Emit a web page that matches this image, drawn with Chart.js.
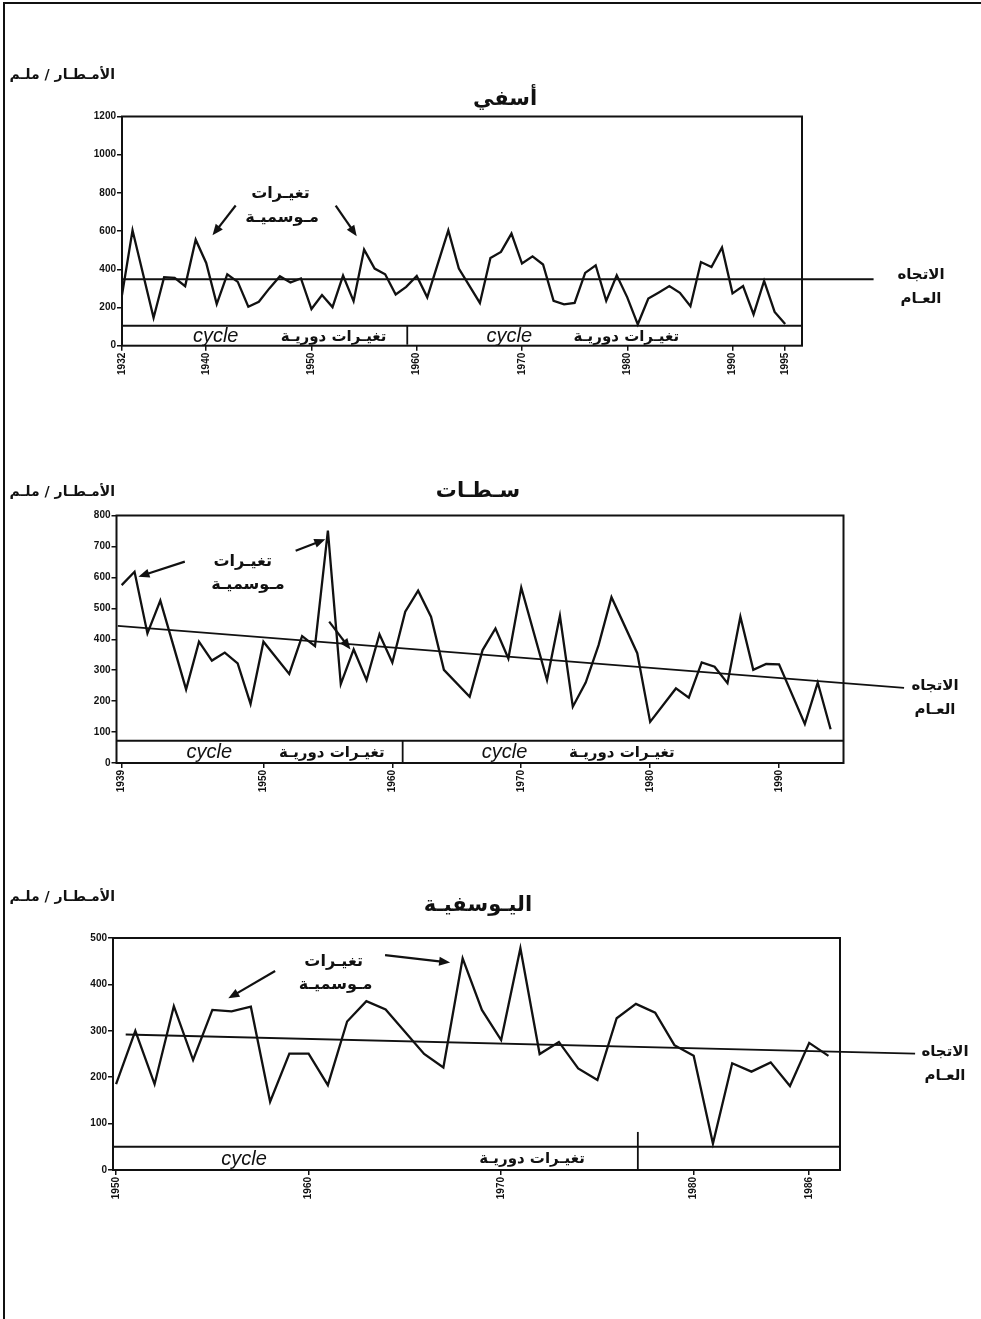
<!DOCTYPE html>
<html>
<head>
<meta charset="utf-8">
<script src="https://cdn.jsdelivr.net/npm/chart.js@4.4.0/dist/chart.umd.min.js"></script>
<style>
html, body { margin: 0; padding: 0; background: #fff; }
#page { position: relative; width: 981px; height: 1319px; overflow: hidden; background: #fff; }
#frame { position: absolute; left: 3px; top: 2px; right: -10px; bottom: -10px; border-left: 2.5px solid #111; border-top: 2.5px solid #111; }
canvas { position: absolute; left: 0; }
</style>
</head>
<body>
<div id="page">
  <div id="frame"></div>
  <canvas id="c1" width="981" height="420" style="top:0px"></canvas>
  <canvas id="c2" width="981" height="420" style="top:420px"></canvas>
  <canvas id="c3" width="981" height="479" style="top:840px"></canvas>
</div>
<script>
// Safi (أسفي) annual rainfall, mm
const safiYears = [1932, 1933, 1935, 1936, 1937, 1938, 1939, 1940, 1941, 1942, 1943, 1944, 1945, 1946, 1947, 1948, 1949,
  1950, 1951, 1952, 1953, 1954, 1955, 1956, 1957, 1958, 1959, 1960, 1961, 1963, 1964, 1966, 1967, 1968, 1969,
  1970, 1971, 1972, 1973, 1974, 1975, 1976, 1977, 1978, 1979, 1980, 1981, 1982, 1983, 1984, 1985, 1986, 1987,
  1988, 1989, 1990, 1991, 1992, 1993, 1994, 1995];
const safiRain = [265, 604, 146, 359, 355, 312, 555, 433, 218, 374, 334, 204, 230, 300, 364, 331, 352,
  192, 265, 202, 367, 233, 503, 404, 374, 268, 308, 365, 253, 604, 404, 224, 459, 491, 587,
  430, 468, 425, 235, 216, 224, 381, 421, 235, 369, 253, 112, 247, 279, 312, 277, 207, 438,
  412, 514, 274, 312, 164, 339, 177, 113];
const safiTicks = [1932, 1940, 1950, 1960, 1970, 1980, 1990, 1995];
const safiTrendYears = [1932, 2003.4];
const safiTrendRain = [348, 348];

// Settat (سطات)
const settatYears = [1939, 1940, 1941, 1942, 1944, 1945, 1946, 1947, 1948, 1949, 1950, 1952, 1953, 1954, 1955,
  1956, 1957, 1958, 1959, 1960, 1961, 1962, 1963, 1964, 1966, 1967, 1968, 1969, 1970, 1972, 1973, 1974,
  1975, 1976, 1977, 1979, 1980, 1982, 1983, 1984, 1985, 1986, 1987, 1988, 1989, 1990, 1992, 1993, 1994];
const settatRain = [575, 618, 419, 525, 238, 392, 331, 357, 322, 191, 392, 288, 410, 378, 751,
  255, 367, 268, 416, 325, 489, 557, 473, 301, 214, 365, 435, 338, 567, 268, 476, 182,
  260, 381, 536, 355, 133, 241, 211, 325, 311, 258, 473, 301, 320, 319, 126, 260, 109];
const settatTicks = [1939, 1950, 1960, 1970, 1980, 1990];
const settatTrendYears = [1938.7, 1999.7];
const settatTrendRain = [443, 243];

// Youssoufia (اليوسفية)
const youssYears = [1950, 1951, 1952, 1953, 1954, 1955, 1956, 1957, 1958, 1959, 1960, 1961, 1962, 1963, 1964,
  1966, 1967, 1968, 1969, 1970, 1971, 1972, 1973, 1974, 1975, 1976, 1977, 1978, 1979, 1980, 1981, 1982,
  1983, 1984, 1985, 1986, 1987];
const youssRain = [185, 300, 185, 353, 237, 345, 342, 352, 147, 251, 251, 183, 320, 364, 346,
  250, 221, 456, 345, 280, 478, 250, 276, 219, 194, 327, 358, 339, 269, 246, 57, 230,
  212, 232, 181, 274, 246];
const youssTicks = [1950, 1960, 1970, 1980, 1986];
const youssTrendYears = [1950.5, 1991.5];
const youssTrendRain = [292, 251];

const AR = '"DejaVu Sans", sans-serif';
const LAT = '"Liberation Sans", Arial, sans-serif';
const INK = '#111';

function arrow(ctx, x1, y1, x2, y2) {
  const a = Math.atan2(y2 - y1, x2 - x1);
  const hl = 11, hw = 4.5;
  ctx.beginPath();
  ctx.moveTo(x1, y1);
  ctx.lineTo(x2 - Math.cos(a) * hl * 0.8, y2 - Math.sin(a) * hl * 0.8);
  ctx.lineWidth = 2.2;
  ctx.stroke();
  ctx.beginPath();
  ctx.moveTo(x2, y2);
  ctx.lineTo(x2 - Math.cos(a) * hl - Math.sin(a) * hw, y2 - Math.sin(a) * hl + Math.cos(a) * hw);
  ctx.lineTo(x2 - Math.cos(a) * hl + Math.sin(a) * hw, y2 - Math.sin(a) * hl - Math.cos(a) * hw);
  ctx.closePath();
  ctx.fill();
}

const decor = {
  id: 'decor',
  afterDatasetsDraw(chart, args, o) {
    const { ctx, chartArea: ca, scales } = chart;
    const px = v => scales.x.getPixelForValue(v);
    const py = v => scales.y.getPixelForValue(v);
    ctx.save();
    ctx.strokeStyle = INK;
    ctx.fillStyle = INK;
    // box
    ctx.lineWidth = 2;
    ctx.strokeRect(ca.left, ca.top, ca.right - ca.left, ca.bottom - ca.top);
    // cycle band
    ctx.beginPath();
    ctx.moveTo(ca.left, py(o.band));
    ctx.lineTo(ca.right, py(o.band));
    ctx.stroke();
    ctx.beginPath();
    ctx.lineWidth = 1.8;
    ctx.moveTo(px(o.divYear), py(o.divFrom));
    ctx.lineTo(px(o.divYear), py(0) - 1);
    ctx.stroke();
    ctx.textBaseline = 'middle';
    ctx.textAlign = 'center';
    const by = py(o.band / 2) + 1;
    o.cycles.forEach(c => {
      if (c[0] != null) {
        ctx.font = 'italic 20px ' + LAT;
        ctx.fillText('cycle', px(c[0]), by);
      }
      if (c[1] != null) {
        ctx.font = 'bold 15px ' + AR;
        ctx.fillText('تغيـرات دوريـة', px(c[1]), by);
      }
    });
    // seasonal annotation
    ctx.font = 'bold 16px ' + AR;
    ctx.fillText('تغيـرات', px(o.note[0]), py(o.note[1]));
    ctx.fillText('مـوسميـة', px(o.note[2]), py(o.note[3]));
    o.arrows.forEach(a => arrow(ctx, px(a[0]), py(a[1]), px(a[2]), py(a[3])));
    // title
    ctx.font = 'bold 21px ' + AR;
    ctx.fillText(o.title, o.titleXY[0], o.titleXY[1]);
    // y unit label
    ctx.font = 'bold 14px ' + AR;
    ctx.textAlign = 'right';
    ctx.fillText('الأمـطـار / ملـم', 115, o.unitY);
    // trend label
    ctx.textAlign = 'center';
    ctx.font = 'bold 15px ' + AR;
    ctx.fillText('الاتجاه', o.trendXY[0], o.trendXY[1]);
    ctx.fillText('العـام', o.trendXY[0], o.trendXY[1] + 24);
    ctx.restore();
  }
};

function makeChart(id, c) {
  const H = document.getElementById(id).height;
  const xAxisH = 45;
  const tickFont = { family: LAT, weight: 'bold', size: 10 };
  return new Chart(document.getElementById(id), {
    type: 'line',
    data: {
      datasets: [{
        data: c.years.map((x, i) => ({ x, y: c.vals[i] })),
        borderColor: INK,
        borderWidth: 2.3,
        pointRadius: 0,
        tension: 0
      }, {
        data: c.trendYears.map((x, i) => ({ x, y: c.trendVals[i] })),
        borderColor: INK,
        borderWidth: 1.8,
        pointRadius: 0,
        clip: false
      }]
    },
    options: {
      responsive: false,
      animation: false,
      devicePixelRatio: 1,
      layout: { padding: { left: 0, top: c.area.t, right: 981 - c.area.r, bottom: H - c.area.b - xAxisH } },
      plugins: { legend: { display: false }, tooltip: { enabled: false }, decor: c.decor },
      scales: {
        x: {
          type: 'linear', min: c.xMin, max: c.xMax,
          afterBuildTicks: s => { s.ticks = c.ticks.map(v => ({ value: v })); },
          afterFit: s => { s.height = xAxisH; },
          ticks: { minRotation: 90, maxRotation: 90, autoSkip: false, font: tickFont, color: INK, padding: 2,
            callback: v => String(v) },
          grid: { drawOnChartArea: false, tickLength: 5, color: INK, lineWidth: 1.5 },
          border: { display: false }
        },
        y: {
          min: 0, max: c.yMax,
          afterFit: s => { s.width = c.area.l; },
          ticks: { stepSize: c.yStep, font: tickFont, color: INK, padding: 1, callback: v => String(v) },
          grid: { drawOnChartArea: false, tickLength: 5, color: INK, lineWidth: 1.5 },
          border: { display: false }
        }
      }
    },
    plugins: [decor]
  });
}

makeChart('c1', {
  years: safiYears, vals: safiRain, ticks: safiTicks,
  trendYears: safiTrendYears, trendVals: safiTrendRain,
  area: { l: 122, r: 802, t: 116.5, b: 345.7 }, xMin: 1932, xMax: 1996.6, yMax: 1200, yStep: 200,
  decor: {
    band: 104, divYear: 1959.1, divFrom: 104,
    cycles: [[1940.9, 1952.1], [1968.8, 1979.9]],
    note: [1947.05, 795, 1947.2, 668],
    arrows: [[1942.8, 734, 1940.6, 578], [1952.3, 734, 1954.3, 573]],
    title: 'أسفي', titleXY: [505, 100], unitY: 75, trendXY: [921, 275]
  }
});

makeChart('c2', {
  years: settatYears, vals: settatRain, ticks: settatTicks,
  trendYears: settatTrendYears, trendVals: settatTrendRain,
  area: { l: 116.5, r: 843.5, t: 95.5, b: 343 }, xMin: 1938.6, xMax: 1995.0, yMax: 800, yStep: 100,
  decor: {
    band: 72, divYear: 1960.8, divFrom: 72,
    cycles: [[1945.8, 1955.3], [1968.7, 1977.8]],
    note: [1948.4, 651, 1948.8, 575],
    arrows: [[1943.9, 651, 1940.3, 602], [1952.5, 686, 1954.8, 723], [1955.1, 457, 1956.75, 367]],
    title: 'سـطـات', titleXY: [478, 72], unitY: 72, trendXY: [935, 266]
  }
});

makeChart('c3', {
  years: youssYears, vals: youssRain, ticks: youssTicks,
  trendYears: youssTrendYears, trendVals: youssTrendRain,
  area: { l: 113, r: 840, t: 98, b: 330 }, xMin: 1949.84, xMax: 1987.6, yMax: 500, yStep: 100,
  decor: {
    band: 50, divYear: 1977.1, divFrom: 82,
    cycles: [[1956.65, null], [null, 1971.6]],
    note: [1961.3, 449, 1961.4, 399],
    arrows: [[1958.26, 429, 1955.83, 370], [1963.97, 463, 1967.35, 447]],
    title: 'اليـوسفيـة', titleXY: [478, 66], unitY: 57, trendXY: [945, 212]
  }
});
</script>
</body>
</html>
